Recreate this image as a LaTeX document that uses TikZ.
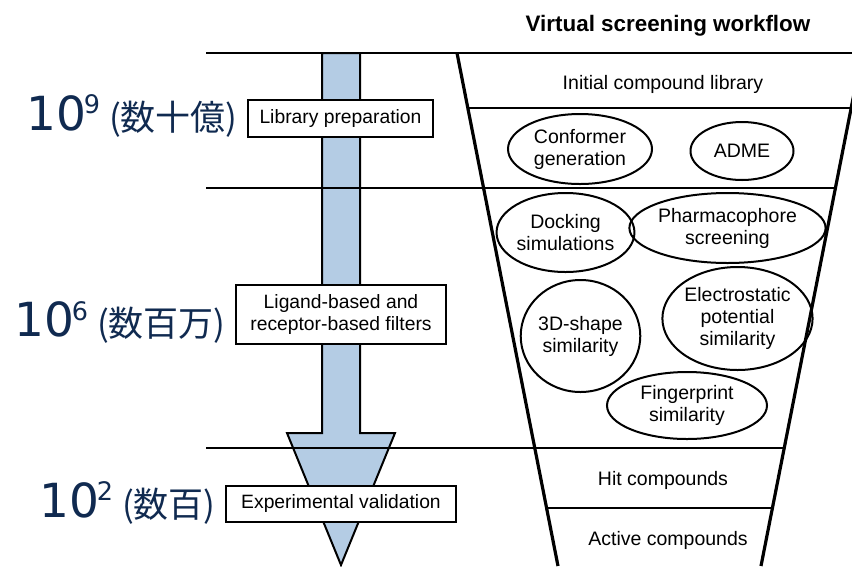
\documentclass[tikz,border=0pt]{standalone}
\usepackage{fontspec}
\setmainfont{Liberation Sans}
\newfontfamily\numfont{DejaVu Sans}
\newfontfamily\cjkfont{Noto Sans CJK JP}
\usetikzlibrary{shapes.geometric}
\definecolor{arrowblue}{RGB}{180,204,228}
\definecolor{navy}{RGB}{16,42,80}
\newcommand{\countlabel}[2]{\numfont\fontsize{47}{47}\selectfont 10\hspace{-2pt}\raisebox{16.5pt}{\fontsize{25.5}{25.5}\selectfont #1}\hspace{9pt}\cjkfont\fontsize{35}{35}\selectfont (#2)}
\begin{document}
\begin{tikzpicture}[x=1pt,y=-1pt,
  hl/.style={line width=2pt},
  funnelside/.style={line width=3.2pt},
  stagebox/.style={draw, line width=2pt, fill=white, align=center, inner sep=0pt,
    font=\fontsize{19.3}{21.5}\selectfont},
  ell/.style={ellipse, draw, line width=2pt, inner sep=0pt, align=center,
    font=\fontsize{19.5}{22}\selectfont},
  txt/.style={inner sep=0pt, align=center, font=\fontsize{19.5}{22}\selectfont},
  countlbl/.style={anchor=base east, inner sep=0pt, text=navy}
]
\useasboundingbox (0,0) rectangle (852,566);
\clip (0,0) rectangle (852,566);

% funnel corners
\coordinate (fTL) at (457,53);
\coordinate (fBL) at (558,566);
\coordinate (fTR) at (862,53);
\coordinate (fBR) at (761,566);

% arrow
\draw[line width=2pt, fill=arrowblue, line join=miter]
  (322,53) -- (322,433) -- (287,433) -- (341,565) -- (395,433) -- (360,433) -- (360,53) -- cycle;

% horizontal lines
\draw[hl] (206,53) -- (fTL);
\draw[line width=2.8pt] (fTL) -- (fTR);
\draw[hl] (467.8,108) -- (851.2,108);
\draw[hl] (206,188) -- (835.4,188);
\draw[hl] (206,448) -- (784.2,448);
\draw[hl] (546.6,508) -- (772.4,508);

% funnel sides
\draw[funnelside] (fTL) -- (fBL);
\draw[funnelside] (fTR) -- (fBR);

% title
\node[inner sep=0pt, font=\bfseries\fontsize{22.4}{26}\selectfont] (title) at (668,26) {Virtual screening workflow};

% funnel texts
\node[txt] (init) at (663,84) {Initial compound library};
\node[txt] (hit) at (663,480) {Hit compounds};
\node[txt] (active) at (668,540) {Active compounds};

% ellipses
\node[ell, minimum width=144pt, minimum height=70pt] (conf) at (580,149) {Conformer\\generation};
\node[ell, minimum width=103pt, minimum height=58pt] (adme) at (742,151) {ADME};
\node[ell, minimum width=129pt, minimum height=79pt] (dock) at (565.5,232.5) {Docking\\simulations};
\node[ell, minimum width=183pt, minimum height=70pt] (pharm) at (727.5,228) {Pharmacophore\\screening};
\node[ell, minimum width=115pt, minimum height=112pt] (shape) at (580.5,336) {3D-shape\\similarity};
\node[ell, minimum width=131pt, minimum height=103pt] (elec) at (737.5,318.5) {Electrostatic\\potential\\similarity};
\node[ell, minimum width=160pt, minimum height=67pt] (finger) at (687,405.5) {Fingerprint\\similarity};

% stage boxes
\node[stagebox, minimum width=185pt, minimum height=37pt] (lib) at (340.5,118.5) {Library preparation};
\node[stagebox, minimum width=210pt, minimum height=59pt] (filt) at (341,314.5) {Ligand-based and\\receptor-based filters};
\node[stagebox, minimum width=230pt, minimum height=36pt] (exp) at (341,504) {Experimental validation};

% count labels
\node[countlbl] (c9) at ([xshift=-9pt,yshift=-11.5pt]lib.west) {\countlabel{9}{数十億}};
\node[countlbl] (c6) at ([xshift=-9pt,yshift=-22pt]filt.west) {\countlabel{6}{数百万}};
\node[countlbl] (c2) at ([xshift=-9pt,yshift=-13pt]exp.west) {\countlabel{2}{数百}};
\end{tikzpicture}
\end{document}
